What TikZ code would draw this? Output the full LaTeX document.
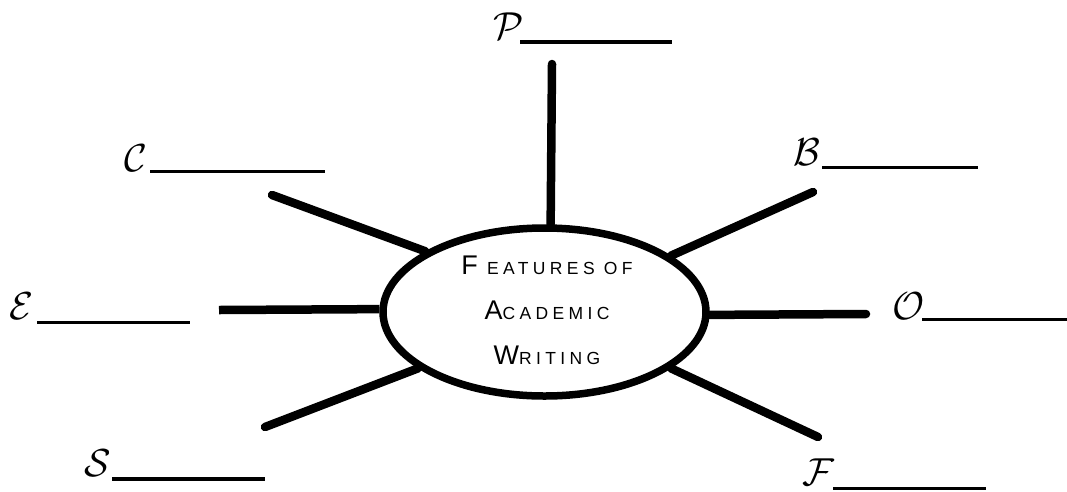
\documentclass[tikz,border=0pt]{standalone}
\usepackage{fontspec}
\newfontfamily\hand[LetterSpace=25]{Liberation Sans}
\usetikzlibrary{shapes.geometric}
\newcommand{\capletter}[1]{{\fontsize{27}{45}\selectfont #1}}
\begin{document}
\begin{tikzpicture}[x=1pt,y=-1pt,
  spoke/.style={line width=8.5pt, line cap=round},
  blank/.style={line width=3.5pt},
  lab/.style={inner sep=0pt, scale=3.9},
  hub/.style={ellipse, draw, line width=7.5pt, minimum width=323pt, minimum height=168pt, inner sep=0pt},
  title/.style={font=\hand\fontsize{17.5}{45}\selectfont, align=center, inner sep=0pt}]
\useasboundingbox (0,0) rectangle (1067,491);
\node[hub] (e) at (544.5,312) {};
\node[title] (t) at (547,310) {\capletter{F} EATURES OF\\\capletter{A}CADEMIC\\\capletter{W}RITING};
% spokes
\coordinate (pP) at (552,64);
\coordinate (pC) at (272,195);
\coordinate (pB) at (813,192);
\coordinate (pE) at (219,310);
\coordinate (pO) at (866,314);
\coordinate (pS) at (265,427);
\coordinate (pF) at (818,437);
\draw[spoke] (pP) -- (e.86.6);
\draw[spoke] (pC) -- (e.153.8);
\draw[spoke] (pB) -- (e.24.7);
\draw[spoke, line cap=butt] (pE) -- (e.179.3);
\draw[spoke] (pO) -- (e.359.3);
\draw[spoke] (pS) -- (e.204);
\draw[spoke] (pF) -- (e.336);
% labels
\node[lab] (lP) at (509,26) {$\mathcal{P}$};
\node[lab] (lC) at (136,158) {$\mathcal{C}$};
\node[lab] (lB) at (807,152) {$\mathcal{B}$};
\node[lab] (lE) at (22,306) {$\mathcal{E}$};
\node[lab] (lO) at (909,306) {$\mathcal{O}$};
\node[lab] (lS) at (98,463) {$\mathcal{S}$};
\node[lab] (lF) at (818,472) {$\mathcal{F}$};
% blanks
\coordinate (uP1) at (520,42);   \coordinate (uP2) at (672,42);
\coordinate (uC1) at (150,171.5); \coordinate (uC2) at (325,171.5);
\coordinate (uB1) at (822,167.5); \coordinate (uB2) at (978,167.5);
\coordinate (uE1) at (37,322.5);  \coordinate (uE2) at (190,322.5);
\coordinate (uO1) at (922,319.5); \coordinate (uO2) at (1067,319.5);
\coordinate (uS1) at (112,479);   \coordinate (uS2) at (265,479);
\coordinate (uF1) at (833,488.5); \coordinate (uF2) at (986,488.5);
\draw[blank] (uP1) -- (uP2);
\draw[blank] (uC1) -- (uC2);
\draw[blank] (uB1) -- (uB2);
\draw[blank] (uE1) -- (uE2);
\draw[blank] (uO1) -- (uO2);
\draw[blank] (uS1) -- (uS2);
\draw[blank] (uF1) -- (uF2);
\end{tikzpicture}
\end{document}
